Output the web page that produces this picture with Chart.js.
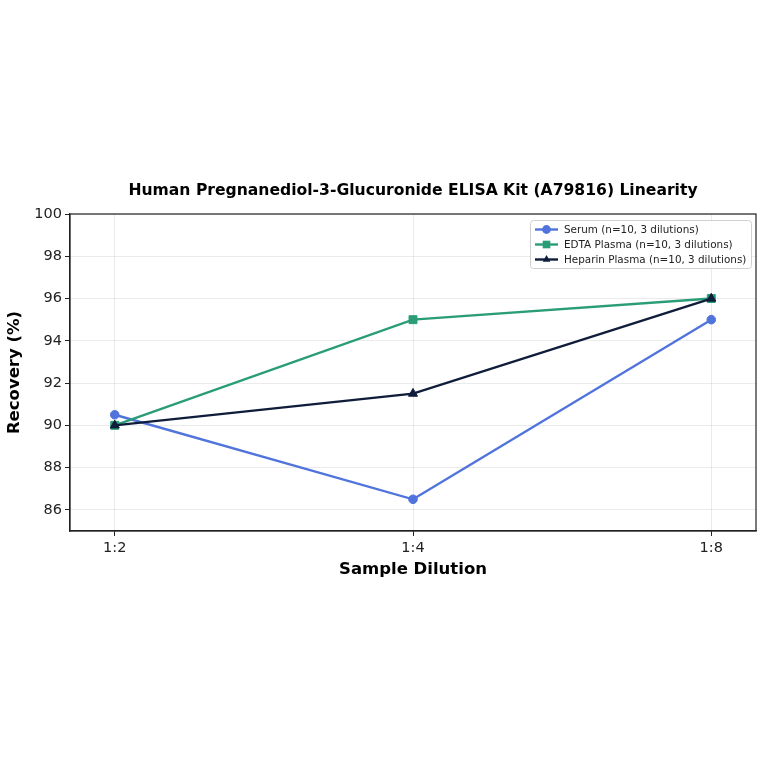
<!DOCTYPE html>
<html>
<head>
<meta charset="utf-8">
<script src="https://cdn.jsdelivr.net/npm/chart.js@4.4.1/dist/chart.umd.min.js"></script>
<style>
  html, body { margin: 0; padding: 0; background: #fff; }
  #wrap { width: 764px; height: 764px; }
</style>
</head>
<body>
<div id="wrap"><canvas id="linChart" width="764" height="764"></canvas></div>
<script>
// Dilution categories and recovery values (%)
const dilutions = ['1:2', '1:4', '1:8'];
const serumValues = [90.5, 86.5, 95];
const edtaValues = [90, 95, 96];
const heparinValues = [90, 91.5, 96];
const yTicks = [86, 88, 90, 92, 94, 96, 98, 100];

const chartTitle = 'Human Pregnanediol-3-Glucuronide ELISA Kit (A79816) Linearity';
const FONT = '"DejaVu Sans", Verdana, sans-serif';

const colors = {
    serum: '#5074dc',
    edta: '#2a9d78',
    heparin: '#0f1d3a'
};

function toPoints(values) {
    return values.map((v, i) => ({ x: i, y: v }));
}

const datasets = [{
    label: 'Serum (n=10, 3 dilutions)',
    data: toPoints(serumValues),
    borderColor: colors.serum,
    backgroundColor: colors.serum,
    pointStyle: 'circle',
    pointRadius: 4.3,
    order: 2
}, {
    label: 'EDTA Plasma (n=10, 3 dilutions)',
    data: toPoints(edtaValues),
    borderColor: colors.edta,
    backgroundColor: colors.edta,
    pointStyle: 'rect',
    pointRadius: 5.6,
    order: 1
}, {
    label: 'Heparin Plasma (n=10, 3 dilutions)',
    data: toPoints(heparinValues),
    borderColor: colors.heparin,
    backgroundColor: colors.heparin,
    pointStyle: 'triangle',
    pointRadius: 5.2,
    order: 0
}];
datasets.forEach(d => {
    d.borderWidth = 2.4;
    d.pointBorderWidth = 1;
    d.tension = 0;
    d.fill = false;
});

// Title, frame and inner legend drawn by hand
const decorations = {
    id: 'decorations',
    afterDraw(chart) {
        const ctx = chart.ctx;
        const a = chart.chartArea;
        ctx.save();

        // frame
        ctx.strokeStyle = '#222';
        ctx.lineWidth = 1.2;
        ctx.strokeRect(a.left, a.top, a.right - a.left, a.bottom - a.top);

        // title
        ctx.fillStyle = '#000';
        ctx.font = 'bold 15.6px ' + FONT;
        ctx.textAlign = 'center';
        ctx.textBaseline = 'middle';
        ctx.fillText(chartTitle, (a.left + a.right) / 2, 191);

        // legend
        const bx = 530, by = 220, bw = 221, bh = 48;
        ctx.fillStyle = 'rgba(255,255,255,0.85)';
        ctx.strokeStyle = '#d0d0d0';
        ctx.lineWidth = 1;
        ctx.beginPath();
        ctx.roundRect(bx + 0.5, by + 0.5, bw, bh, 3);
        ctx.fill();
        ctx.stroke();

        ctx.font = '10.4px ' + FONT;
        ctx.textAlign = 'left';
        chart.data.datasets.forEach((ds, i) => {
            const y = by + 9.5 + i * 15;
            ctx.strokeStyle = ds.borderColor;
            ctx.lineWidth = 2.4;
            ctx.beginPath();
            ctx.moveTo(535, y);
            ctx.lineTo(558, y);
            ctx.stroke();
            ctx.fillStyle = ds.backgroundColor;
            Chart.helpers.drawPoint(ctx, {
                pointStyle: ds.pointStyle,
                radius: ds.pointStyle === 'rect' ? 5.4 : 4.4,
                rotation: 0,
                borderWidth: 0
            }, 546.5, y);
            ctx.fillStyle = '#222';
            ctx.fillText(ds.label, 564, y + 0.5);
        });
        ctx.restore();
    }
};

new Chart(document.getElementById('linChart'), {
    type: 'line',
    data: { datasets: datasets },
    plugins: [decorations],
    options: {
        responsive: false,
        animation: false,
        layout: { padding: { left: 0, right: 8, top: 214, bottom: 180 } },
        plugins: {
            legend: { display: false },
            title: { display: false },
            tooltip: { enabled: false }
        },
        scales: {
            x: {
                type: 'linear',
                min: -0.15,
                max: 2.15,
                afterBuildTicks: scale => {
                    scale.ticks = dilutions.map((_, i) => ({ value: i }));
                },
                afterFit: scale => { scale.height = 53; },
                ticks: {
                    color: '#222',
                    font: { family: FONT, size: 14.5 },
                    padding: 4,
                    callback: value => dilutions[value]
                },
                grid: {
                    color: 'rgba(0,0,0,0.08)',
                    tickColor: '#222',
                    tickLength: 5
                },
                border: { color: '#222', width: 1.2 },
                title: {
                    display: true,
                    text: 'Sample Dilution',
                    color: '#000',
                    font: { family: FONT, size: 16.5, weight: 'bold' },
                    padding: { top: 2, bottom: 4 }
                }
            },
            y: {
                min: 85,
                max: 100,
                afterBuildTicks: scale => {
                    scale.ticks = yTicks.map(v => ({ value: v }));
                },
                afterFit: scale => { scale.width = 70; },
                ticks: {
                    color: '#222',
                    font: { family: FONT, size: 14.5 },
                    padding: 3
                },
                grid: {
                    color: 'rgba(0,0,0,0.08)',
                    tickColor: '#222',
                    tickLength: 5
                },
                border: { color: '#222', width: 1.2 },
                title: {
                    display: true,
                    text: 'Recovery (%)',
                    color: '#000',
                    font: { family: FONT, size: 16.5, weight: 'bold' },
                    padding: { top: 5, bottom: 2 }
                }
            }
        }
    }
});
</script>
</body>
</html>
